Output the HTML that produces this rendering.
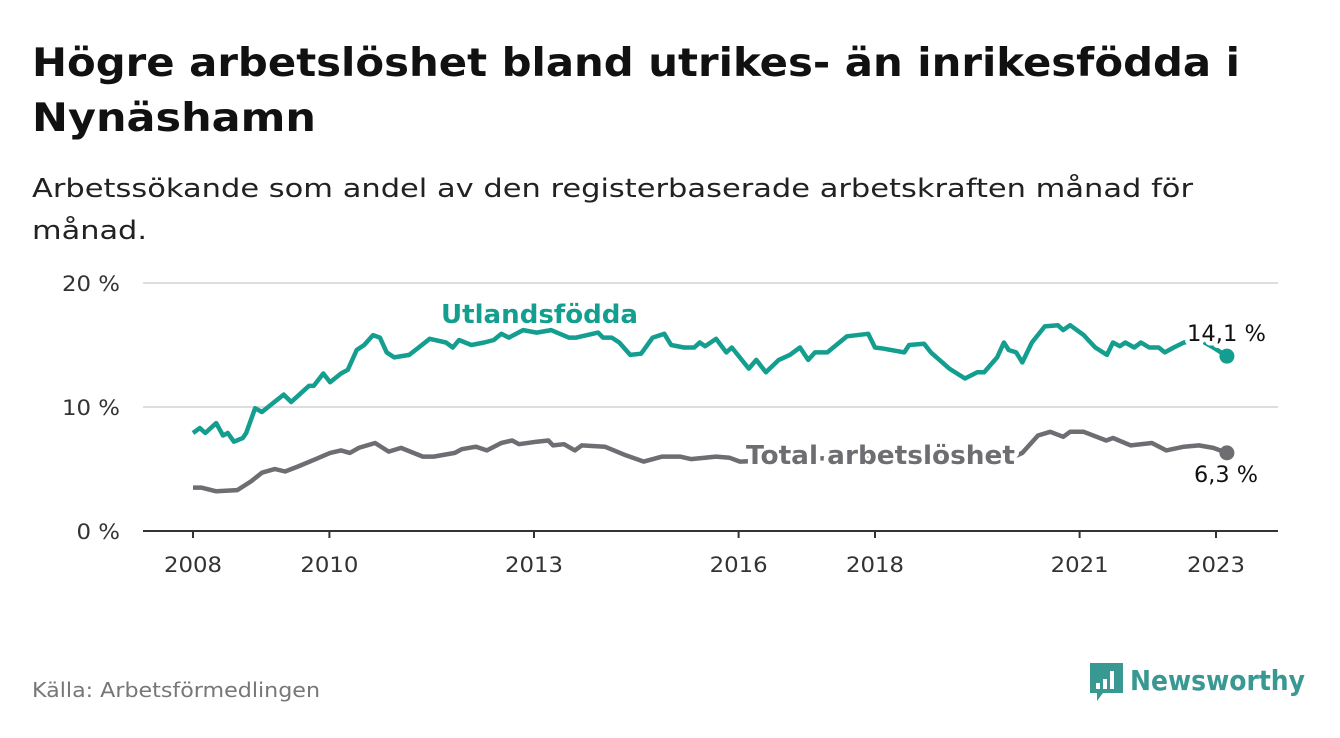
<!DOCTYPE html>
<html><head><meta charset="utf-8"><style>
body{margin:0;background:#fff;width:1340px;height:734px;overflow:hidden;font-family:"DejaVu Sans","Liberation Sans",sans-serif}
text{font-family:"DejaVu Sans","Liberation Sans",sans-serif}
</style></head><body>
<svg width="1340" height="734">
<text x="32" y="76" font-size="39" font-weight="bold" fill="#111" textLength="1208" lengthAdjust="spacingAndGlyphs">Högre arbetslöshet bland utrikes- än inrikesfödda i</text>
<text x="32" y="131" font-size="39" font-weight="bold" fill="#111" textLength="284" lengthAdjust="spacingAndGlyphs">Nynäshamn</text>
<text x="32" y="197" font-size="26" fill="#222" textLength="1161" lengthAdjust="spacingAndGlyphs">Arbetssökande som andel av den registerbaserade arbetskraften månad för</text>
<text x="32" y="239" font-size="26" fill="#222" textLength="115" lengthAdjust="spacingAndGlyphs">månad.</text>
<g id="grid"></g>
<g id="lines"></g>
<text x="32" y="697" font-size="20" fill="#777" textLength="288" lengthAdjust="spacingAndGlyphs">Källa: Arbetsförmedlingen</text>
<g>
<path d="M1090 663h33v30h-20l-6 8v-8h-7z" fill="#3a9893"/>
<rect x="1096" y="683" width="4" height="6" fill="#fff"/><rect x="1103" y="679" width="4" height="10" fill="#fff"/><rect x="1110" y="671" width="4" height="18" fill="#fff"/>
<text x="1130" y="690" font-size="28" font-weight="bold" fill="#3a9893" textLength="175" lengthAdjust="spacingAndGlyphs">Newsworthy</text>
</g>
</svg>
<script>
const utlYears=[2008.0,2008.1,2008.18,2008.34,2008.44,2008.51,2008.6,2008.73,2008.78,2008.91,2009.01,2009.17,2009.33,2009.44,2009.54,2009.7,2009.77,2009.91,2010.01,2010.17,2010.27,2010.4,2010.51,2010.64,2010.74,2010.84,2010.95,2011.17,2011.31,2011.47,2011.71,2011.81,2011.9,2012.08,2012.27,2012.41,2012.52,2012.63,2012.84,2013.04,2013.25,2013.51,2013.62,2013.94,2014.01,2014.14,2014.25,2014.41,2014.57,2014.74,2014.91,2015.01,2015.2,2015.35,2015.43,2015.51,2015.67,2015.82,2015.9,2016.15,2016.26,2016.4,2016.59,2016.75,2016.9,2017.02,2017.12,2017.3,2017.59,2017.9,2018.0,2018.13,2018.43,2018.5,2018.72,2018.82,2019.09,2019.32,2019.5,2019.6,2019.79,2019.89,2019.96,2020.07,2020.16,2020.3,2020.49,2020.68,2020.76,2020.86,2021.06,2021.23,2021.4,2021.49,2021.59,2021.67,2021.8,2021.9,2022.02,2022.16,2022.25,2022.38,2022.53,2022.77,2022.96,2023.16];
const utlValues=[7.9,8.3,7.9,8.7,7.7,7.9,7.2,7.5,7.9,9.9,9.6,10.3,11.0,10.4,10.9,11.7,11.7,12.7,12.0,12.7,13.0,14.6,15.0,15.8,15.6,14.4,14.0,14.2,14.8,15.5,15.2,14.8,15.4,15.0,15.2,15.4,15.9,15.6,16.2,16.0,16.2,15.6,15.6,16.0,15.6,15.6,15.2,14.2,14.3,15.6,15.9,15.0,14.8,14.8,15.2,14.9,15.5,14.4,14.8,13.1,13.8,12.8,13.8,14.2,14.8,13.8,14.4,14.4,15.7,15.9,14.8,14.7,14.4,15.0,15.1,14.4,13.1,12.3,12.8,12.8,14.0,15.2,14.6,14.4,13.6,15.2,16.5,16.6,16.2,16.6,15.8,14.8,14.2,15.2,14.9,15.2,14.8,15.2,14.8,14.8,14.4,14.8,15.2,15.4,14.8,14.1];
const totYears=[2008.0,2008.12,2008.34,2008.65,2008.85,2009.01,2009.2,2009.35,2009.54,2009.8,2010.01,2010.17,2010.3,2010.43,2010.67,2010.87,2011.05,2011.37,2011.53,2011.84,2011.94,2012.15,2012.31,2012.52,2012.68,2012.78,2013.04,2013.21,2013.28,2013.44,2013.6,2013.7,2014.04,2014.35,2014.61,2014.88,2015.14,2015.3,2015.67,2015.87,2016.02,2016.5,2017.0,2017.5,2018.0,2018.5,2019.0,2019.5,2020.0,2020.16,2020.39,2020.57,2020.76,2020.86,2021.06,2021.39,2021.49,2021.75,2022.06,2022.27,2022.53,2022.75,2022.96,2023.16];
const totValues=[3.5,3.5,3.2,3.3,4.0,4.7,5.0,4.8,5.2,5.8,6.3,6.5,6.3,6.7,7.1,6.4,6.7,6.0,6.0,6.3,6.6,6.8,6.5,7.1,7.3,7.0,7.2,7.3,6.9,7.0,6.5,6.9,6.8,6.1,5.6,6.0,6.0,5.8,6.0,5.9,5.6,5.7,5.9,5.8,5.9,5.9,5.8,5.9,5.9,6.3,7.7,8.0,7.6,8.0,8.0,7.3,7.5,6.9,7.1,6.5,6.8,6.9,6.7,6.3];
const yTicks=[0,10,20];
const yTickLabels=["0 %","10 %","20 %"];
const xTicks=[2008,2010,2013,2016,2018,2021,2023];
const NS="http://www.w3.org/2000/svg";
const X=t=>193+(t-2008)*68.2;
const Y=v=>531-v*12.4;
function mk(tag,attrs,parent,txt){const e=document.createElementNS(NS,tag);for(const k in attrs)e.setAttribute(k,attrs[k]);if(txt!==undefined)e.textContent=txt;parent.appendChild(e);return e;}
const grid=document.getElementById('grid'),lines=document.getElementById('lines');
yTicks.forEach((v,i)=>{
  if(v>0){const g=mk('line',{x1:143,x2:1278,y1:Y(v),y2:Y(v),stroke:'#ddd','stroke-width':2},grid);
  
  }
  const s=yTickLabels[i];
  const t=mk('text',{x:120,y:Y(v)+8,'text-anchor':'end','font-size':21,fill:'#333',textLength:s.length*14.5,lengthAdjust:'spacingAndGlyphs'},grid,s);
  
  
});
const ax=mk('line',{x1:143,x2:1278,y1:531,y2:531,stroke:'#333','stroke-width':2},grid);


xTicks.forEach(yr=>{
  const tk=mk('line',{x1:X(yr),x2:X(yr),y1:531,y2:538,stroke:'#333','stroke-width':2},grid);
  
  
  const t=mk('text',{x:X(yr),y:572,'text-anchor':'middle','font-size':21,fill:'#333',textLength:58,lengthAdjust:'spacingAndGlyphs'},grid,String(yr));
  
  
});
function series(ys,vs,color,name){
  const d=ys.map((t,i)=>(i?'L':'M')+X(t).toFixed(1)+' '+Y(vs[i]).toFixed(1)).join('');
  const p=mk('path',{d:d,fill:'none',stroke:color,'stroke-width':4.5,'stroke-linejoin':'round'},lines);
  
  
  const c=mk('circle',{cx:X(ys[ys.length-1]),cy:Y(vs[vs.length-1]),r:7.5,fill:color},lines);
  
  
}
series(totYears,totValues,'#6e6d72','total');
series(utlYears,utlValues,'#149e8f','utlandsfodda');
function label(x,y,txt,color,size,weight,w,name){
  const t=mk('text',{x:x,y:y,'font-size':size,'font-weight':weight,fill:color,stroke:'#fff','stroke-width':9,'paint-order':'stroke','stroke-linejoin':'round',textLength:w,lengthAdjust:'spacingAndGlyphs'},lines,txt);
  
  
}
label(441,323,'Utlandsfödda','#149e8f',26,'bold',197,'utlandsfodda-label');
label(746,464,'Total arbetslöshet','#6e6d72',26,'bold',269,'total-label');
label(1187,341,'14,1 %','#111',22,'normal',79,'utlandsfodda-value');
label(1194,482,'6,3 %','#111',22,'normal',64,'total-value');
</script>
</body></html>
